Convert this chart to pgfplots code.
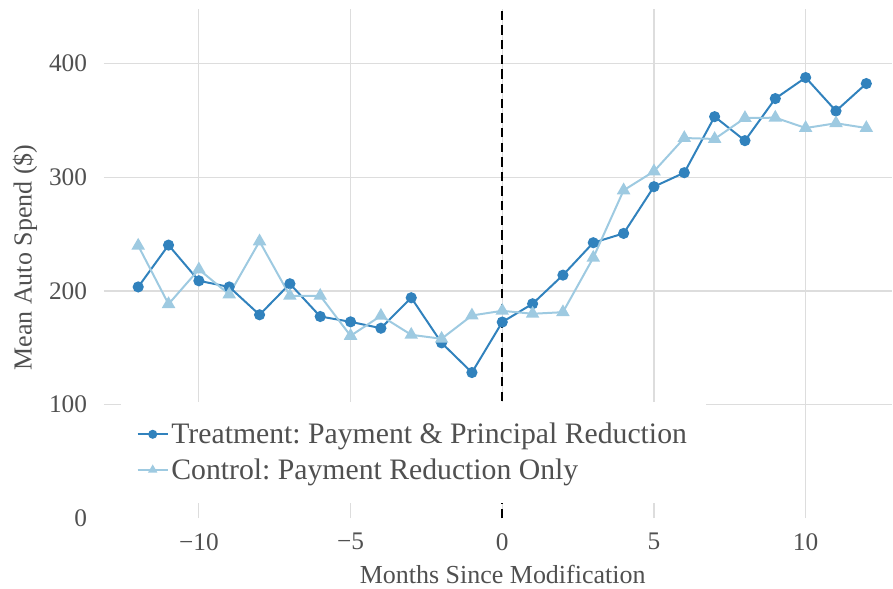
\documentclass[border=0pt]{standalone}
\usepackage{pgfplots}
\pgfplotsset{compat=1.18}
\usepackage{fontspec}
\setmainfont{Liberation Serif}
\frenchspacing
\definecolor{treat}{HTML}{3182BD}
\definecolor{ctrl}{HTML}{9ECAE1}
\definecolor{txt}{HTML}{505050}
\definecolor{gridc}{HTML}{DDDDDD}
\begin{document}
\begin{tikzpicture}
\begin{axis}[
  scale only axis,
  width=591.75pt, height=382.2pt,
  xmin=-13.13, xmax=12.86,
  ymin=0, ymax=448,
  axis line style={draw=none},
  major tick length=0pt,
  xtick={-10,-5,0,5,10},
  xticklabels={−10,−5,0,5,10},
  ytick={100,200,300,400},
  extra y ticks={0},
  extra y tick style={grid=none},
  grid=major,
  major grid style={gridc, line width=0.9pt},
  /pgf/number format/assume math mode=true,
  tick label style={font=\fontsize{19}{22}\selectfont, text=txt},
  yticklabel style={anchor=east, inner sep=0pt, xshift=-12.5pt},
  xticklabel style={anchor=north, inner sep=0pt, yshift=-11pt},
  xlabel={Months Since Modification},
  ylabel={Mean Auto Spend (\$)},
  label style={font=\fontsize{19.5}{22}\selectfont, text=txt},
  xlabel style={at={(rel axis cs:0.5057,-0.1107)}, anchor=center},
  ylabel style={at={(rel axis cs:-0.1001,0.512)}, anchor=center, rotate=0},
  legend style={at={(rel axis cs:0.021,0.2295)}, anchor=north west, draw=none, fill=white,
    font=\fontsize{22.3}{26}\selectfont, text=txt, inner xsep=12pt, inner ysep=14pt,
    row sep=5.75pt},
  legend cell align=left,
  legend image code/.code={%
    \draw[mark repeat=2,mark phase=2] plot coordinates {(0pt,0pt) (11.25pt,0pt) (22.5pt,0pt)};},
  legend image post style={mark size=2.6pt},
  clip=false,
]
\path (rel axis cs:-0.1318,-0.1378) rectangle (rel axis cs:1,1.0177);
\addplot[color=treat, line width=1.5pt, mark=*, mark size=3.4pt, mark options={solid}] coordinates {
(-12,203.5) (-11,240.3) (-10,208.9) (-9,203.5) (-8,179) (-7,206.3) (-6,177.5) (-5,172.8)
(-4,167.2) (-3,194) (-2,154.3) (-1,128.2) (0,172.6) (1,188.7) (2,213.9) (3,242.4)
(4,250.6) (5,291.7) (6,304) (7,353.3) (8,332.2) (9,369.2) (10,387.7) (11,358.3) (12,382.4)};
\addlegendentry{Treatment: Payment \& Principal Reduction}
\addplot[color=ctrl, line width=1.5pt, mark=triangle*, mark size=4.4pt, mark options={solid}] coordinates {
(-12,239.8) (-11,188.4) (-10,218.9) (-9,196.9) (-8,243.6) (-7,195.7) (-6,195.7) (-5,160.5)
(-4,178.1) (-3,161.4) (-2,157.9) (-1,178.4) (0,182.5) (1,179.9) (2,181.3) (3,229.2)
(4,288.5) (5,305.2) (6,334.5) (7,333.7) (8,352.1) (9,352.4) (10,343.3) (11,347.5) (12,343.3)};
\addlegendentry{Control: Payment Reduction Only}
\addplot[black, line width=1.6pt, dash pattern=on 7pt off 4pt, forget plot] coordinates {(0,0) (0,448)};
\end{axis}
\end{tikzpicture}
\end{document}
